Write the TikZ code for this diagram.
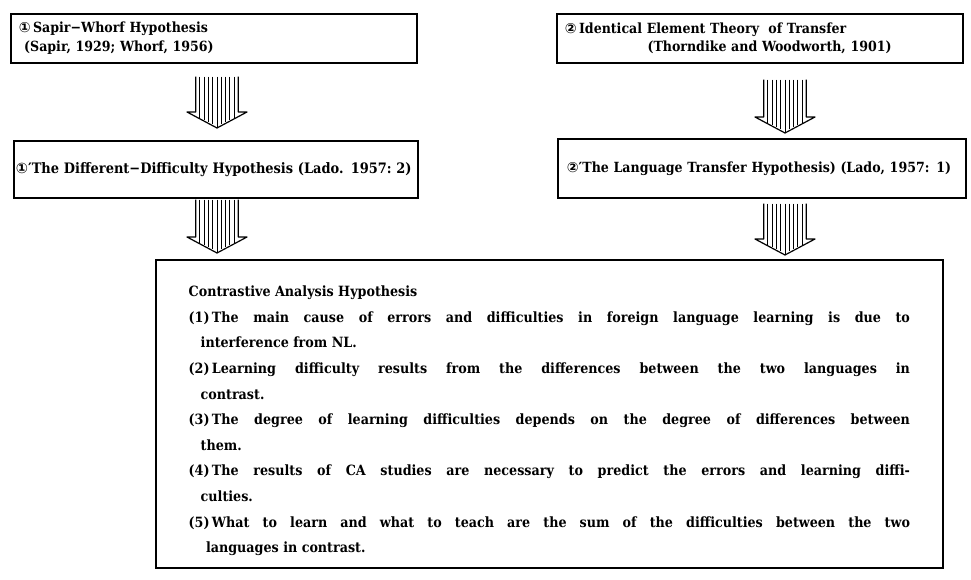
\documentclass[tikz,border=0pt]{standalone}
\usepackage{fontspec}
\setmainfont{DejaVu Serif Condensed}
\newfontfamily\circfont{DejaVu Sans}
\usetikzlibrary{calc,positioning}

\newcommand{\hatcharrow}[2]{%
  \draw[arrowline] let \p1=(#1), \p2=(#2) in
    ({\x1-16pt},\y1) -- ({\x1-16pt},{\y2+12pt}) -- ({\x1-22.5pt},{\y2+12pt}) -- (\x1,\y2)
    -- ({\x1+22.5pt},{\y2+12pt}) -- ({\x1+16pt},{\y2+12pt}) -- ({\x1+16pt},\y1);
  \foreach \k in {-12.8,-9.6,-6.4,-3.2,0,3.2,6.4,9.6,12.8}
    \draw[stripe] let \p1=(#1), \p2=(#2) in
      ({\x1+(\k)*1pt},\y1) -- ({\x1+(\k)*1pt},{\y2+12pt*abs(\k)/22.5+1pt});
}

\begin{document}
\begin{tikzpicture}[x=0.75pt,y=-0.75pt,
    font=\fontsize{10.5}{14.2}\selectfont\bfseries,
    box/.style={draw, line width=1.3pt, anchor=north west, inner ysep=0pt, align=left},
    bigbox/.style={draw, line width=1.3pt, anchor=north west, inner xsep=22.5pt, inner ysep=0pt,
        text width=541pt, minimum width=590.25pt, minimum height=231pt, align=justify,
        font=\fontsize{10.6}{19.2}\selectfont\bfseries},
    arrowline/.style={line width=0.9pt, line join=round},
    stripe/.style={line width=0.7pt},
]
\useasboundingbox (0,0) rectangle (971,580);

\node[box, inner xsep=6pt, text width=292.5pt, minimum height=36.75pt] (sw) at (10,13)
  {{\circfont ①}\,Sapir−Whorf Hypothesis\\\hspace*{4pt}(Sapir, 1929; Whorf, 1956)};
\node[box, inner xsep=6pt, text width=292.5pt, minimum height=36.75pt] (iet) at (556,13)
  {{\circfont ②}\,Identical Element Theory\ \ of Transfer\\\hspace*{62pt}(Thorndike and Woodworth, 1901)};
\node[box, inner xsep=1.5pt, text width=300pt, minimum height=42.75pt,
      font=\fontsize{10.8}{14.2}\selectfont\bfseries] (ddh) at (13,140)
  {{\circfont ①′}The Different−Difficulty Hypothesis (Lado. 1957:\ 2)};
\node[box, inner xsep=6.75pt, text width=292.5pt, minimum height=44.25pt] (lth) at (557,138)
  {{\circfont ②′}The Language Transfer Hypothesis) (Lado, 1957: 1)};

\node[bigbox] (cah) at (155,259) {\parindent=0pt\hyphenpenalty=10000\tolerance=10000
  \rule{0pt}{18.5pt}Contrastive Analysis Hypothesis\par
  \hangindent=9pt\hangafter=1 (1)\,The main cause of errors and difficulties in foreign language learning is due to\linebreak interference from NL.\par
  \hangindent=9pt\hangafter=1 (2)\,Learning difficulty results from the differences between the two languages in\linebreak contrast.\par
  \hangindent=9pt\hangafter=1 (3)\,The degree of learning difficulties depends on the degree of differences between\linebreak them.\par
  \hangindent=9pt\hangafter=1 (4)\,The results of CA studies are necessary to predict the errors and learning diffi-\linebreak culties.\par
  \hangindent=13pt\hangafter=1 (5)\,What to learn and what to teach are the sum of the difficulties between the two\linebreak languages in contrast.\par};

\coordinate (xl) at (217,0);
\coordinate (xr) at (785,0);
\coordinate (a1s) at ([yshift=-9.75pt]sw.south -| xl);
\coordinate (a1e) at ([yshift=9pt]ddh.north -| xl);
\coordinate (a2s) at ([yshift=-0.75pt]ddh.south -| xl);
\coordinate (a2e) at ([yshift=4.5pt]cah.north -| xl);
\coordinate (a3s) at ([yshift=-12pt]iet.south -| xr);
\coordinate (a3e) at ([yshift=3.75pt]lth.north -| xr);
\coordinate (a4s) at ([yshift=-3.75pt]lth.south -| xr);
\coordinate (a4e) at ([yshift=3pt]cah.north -| xr);
\hatcharrow{a1s}{a1e}
\hatcharrow{a2s}{a2e}
\hatcharrow{a3s}{a3e}
\hatcharrow{a4s}{a4e}
\end{tikzpicture}
\end{document}
